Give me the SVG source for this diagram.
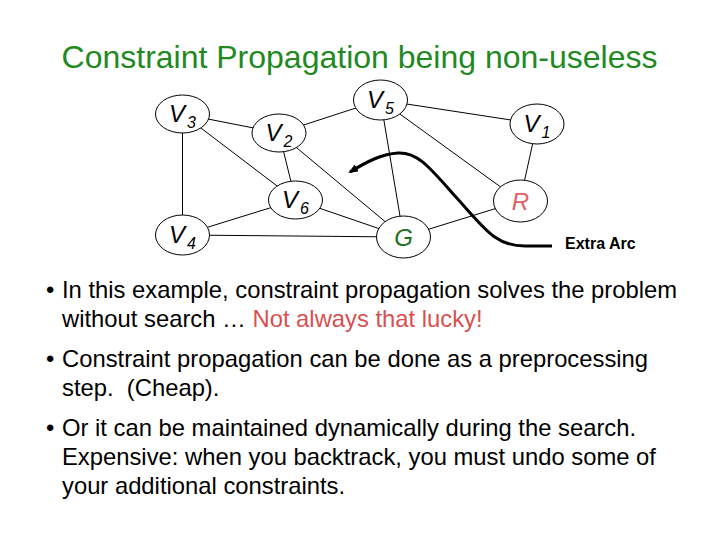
<svg xmlns="http://www.w3.org/2000/svg" width="720" height="540" viewBox="0 0 720 540">
<style>
.edge{stroke:#000;stroke-width:1;fill:none}
.node ellipse{fill:#fff;stroke:#000;stroke-width:1}
.lbl{font-family:"Liberation Sans",Arial,sans-serif;font-size:24px;font-style:italic;fill:#000;text-anchor:middle}
.sub{font-size:16px}
.body{font-family:"Liberation Sans",Arial,sans-serif;font-size:23.8px;fill:#000;white-space:pre}
</style>
<defs>
<marker id="ah" markerWidth="10" markerHeight="8" refX="8" refY="4" orient="auto" markerUnits="userSpaceOnUse">
<path d="M0,0 L10,4 L0,8 Z" fill="#000"/>
</marker>
</defs>
<rect width="720" height="540" fill="#fff"/>
<text x="359.5" y="68" font-family="Liberation Sans, Arial, sans-serif" font-size="32" fill="#1f8a1f" text-anchor="middle">Constraint Propagation being non-useless</text>
<g id="connectors">
<line class="edge" x1="182.5" y1="114" x2="279" y2="133"/>
<line class="edge" x1="182.5" y1="114" x2="295.5" y2="200"/>
<line class="edge" x1="182.5" y1="114" x2="182.5" y2="235" stroke-width="1.5"/>
<line class="edge" x1="279" y1="133" x2="380.5" y2="100"/>
<line class="edge" x1="279" y1="133" x2="295.5" y2="200"/>
<line class="edge" x1="279" y1="133" x2="403.5" y2="237"/>
<line class="edge" x1="380.5" y1="100" x2="537" y2="124"/>
<line class="edge" x1="380.5" y1="100" x2="403.5" y2="237"/>
<line class="edge" x1="380.5" y1="100" x2="520" y2="201"/>
<line class="edge" x1="537" y1="124" x2="520" y2="201"/>
<line class="edge" x1="295.5" y1="200" x2="182.5" y2="235"/>
<line class="edge" x1="295.5" y1="200" x2="403.5" y2="237"/>
<line class="edge" x1="182.5" y1="235" x2="403.5" y2="237" stroke-width="1.5"/>
<line class="edge" x1="403.5" y1="237" x2="520" y2="201"/>
</g>
<g id="V3" class="node"><ellipse cx="182.5" cy="114" rx="27" ry="19"/><text class="lbl" x="182.5" y="122">V<tspan class="sub" dx="2" dy="6">3</tspan></text></g>
<g id="V2" class="node"><ellipse cx="279" cy="133" rx="27" ry="19"/><text class="lbl" x="279" y="141">V<tspan class="sub" dx="2" dy="6">2</tspan></text></g>
<g id="V5" class="node"><ellipse cx="380.5" cy="100" rx="27" ry="20"/><text class="lbl" x="380.5" y="108">V<tspan class="sub" dx="2" dy="6">5</tspan></text></g>
<g id="V1" class="node"><ellipse cx="537" cy="124" rx="27" ry="20"/><text class="lbl" x="537" y="132">V<tspan class="sub" dx="2" dy="6">1</tspan></text></g>
<g id="V6" class="node"><ellipse cx="295.5" cy="200" rx="27" ry="19"/><text class="lbl" x="295.5" y="208">V<tspan class="sub" dx="2" dy="6">6</tspan></text></g>
<g id="R" class="node"><ellipse cx="520.5" cy="201" rx="27" ry="21"/><text class="lbl" x="520.5" y="210" style="fill:#e06060">R</text></g>
<g id="V4" class="node"><ellipse cx="182.5" cy="235" rx="27" ry="20"/><text class="lbl" x="182.5" y="243">V<tspan class="sub" dx="2" dy="6">4</tspan></text></g>
<g id="G" class="node"><ellipse cx="403.5" cy="237" rx="27" ry="21"/><text class="lbl" x="403.5" y="246" style="fill:#1f6f1f">G</text></g>
<g id="extra-arc">
<path d="M552,246 L525,246 C495,246 485,229 455,196 C430,168 418,152 398,153 C382,154 368,161 350,172" fill="none" stroke="#000" stroke-width="3" marker-end="url(#ah)"/>
<text x="565" y="249" font-family="Liberation Sans, Arial, sans-serif" font-size="16" font-weight="bold" fill="#000">Extra Arc</text>
</g>
<g id="bullets">
<text class="body" x="46" y="298">•</text>
<text class="body" x="62" y="298">In this example, constraint propagation solves the problem</text>
<text class="body" x="62" y="327">without search … <tspan fill="#d85050">Not always that lucky!</tspan></text>
<text class="body" x="46" y="367">•</text>
<text class="body" x="62" y="367">Constraint propagation can be done as a preprocessing</text>
<text class="body" x="62" y="396" xml:space="preserve">step.  (Cheap).</text>
<text class="body" x="46" y="436">•</text>
<text class="body" x="62" y="436">Or it can be maintained dynamically during the search.</text>
<text class="body" x="62" y="465">Expensive: when you backtrack, you must undo some of</text>
<text class="body" x="62" y="494">your additional constraints.</text>
</g>
</svg>
